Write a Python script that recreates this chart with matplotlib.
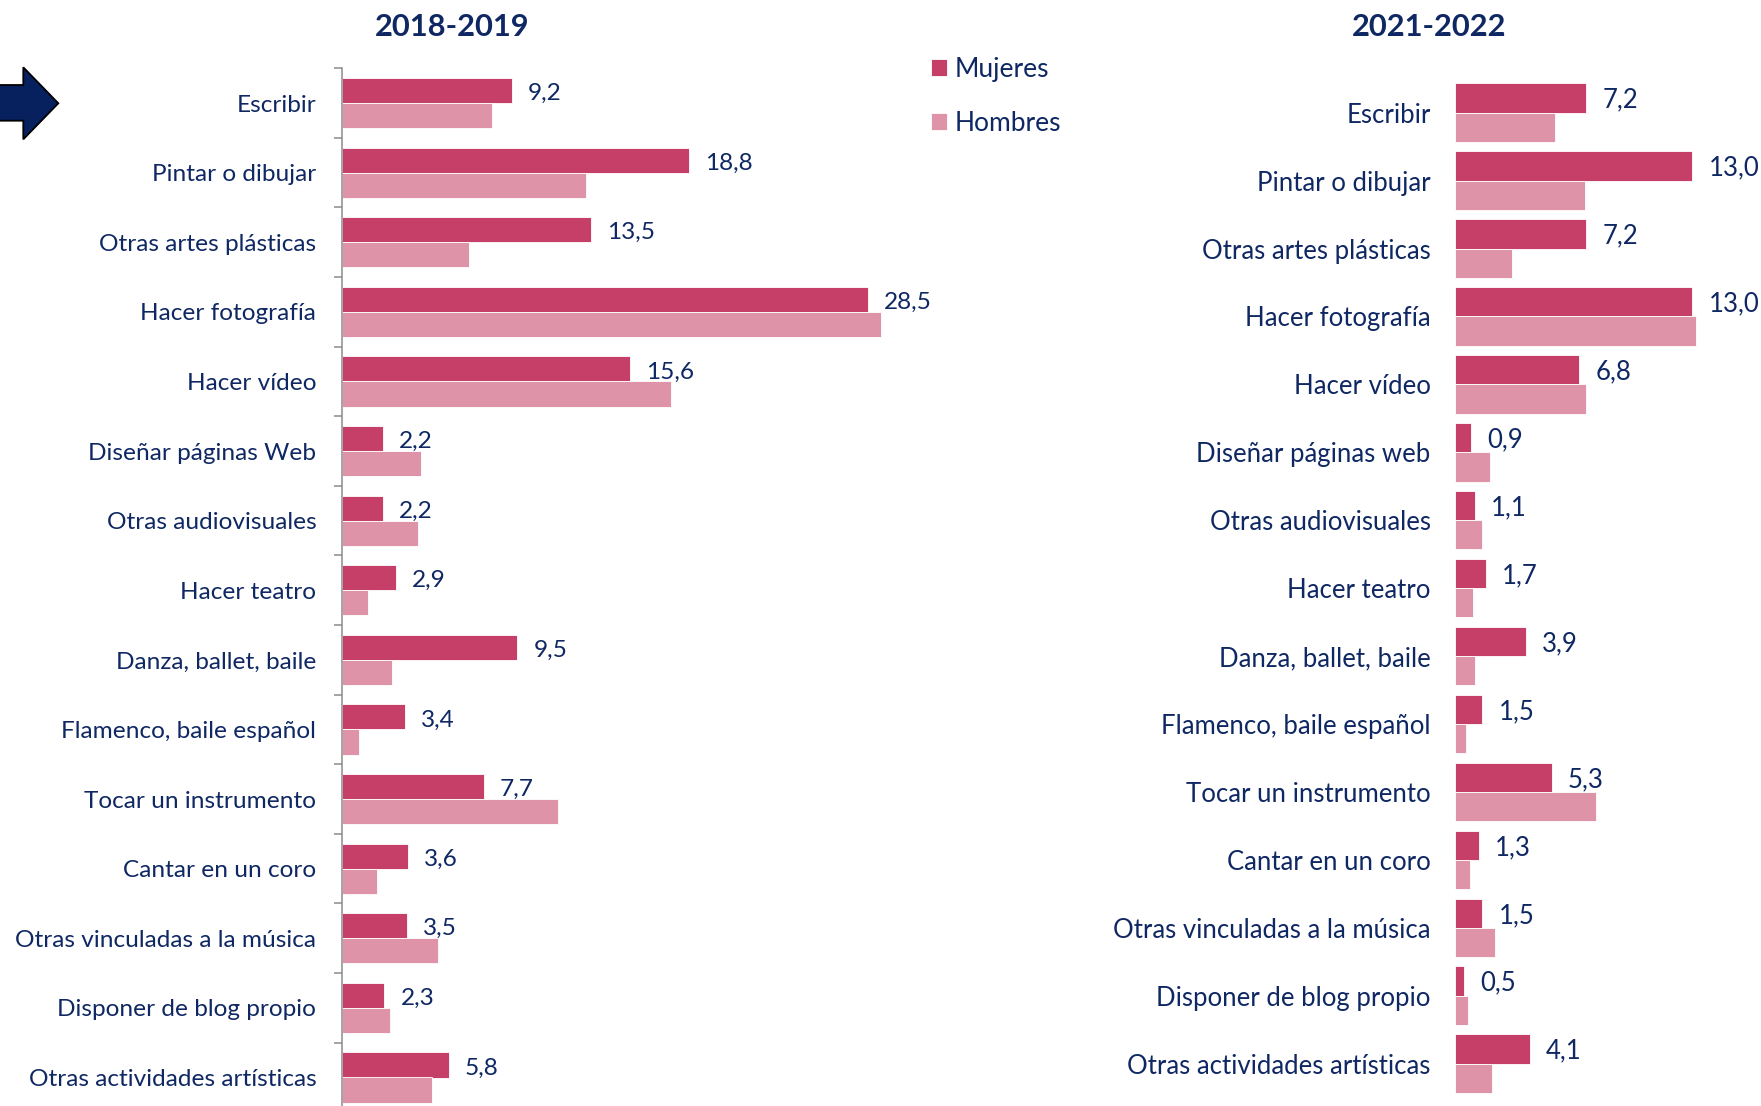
import matplotlib
matplotlib.use("Agg")
import matplotlib.pyplot as plt
from matplotlib.patches import Polygon
import numpy as np

# ---------------- data ----------------
categories_1819 = ["Escribir", "Pintar o dibujar", "Otras artes plásticas", "Hacer fotografía",
                   "Hacer vídeo", "Diseñar páginas Web", "Otras audiovisuales", "Hacer teatro",
                   "Danza, ballet, baile", "Flamenco, baile español", "Tocar un instrumento",
                   "Cantar en un coro", "Otras vinculadas a la música", "Disponer de blog propio",
                   "Otras actividades artísticas"]
categories_2122 = ["Escribir", "Pintar o dibujar", "Otras artes plásticas", "Hacer fotografía",
                   "Hacer vídeo", "Diseñar páginas web", "Otras audiovisuales", "Hacer teatro",
                   "Danza, ballet, baile", "Flamenco, baile español", "Tocar un instrumento",
                   "Cantar en un coro", "Otras vinculadas a la música", "Disponer de blog propio",
                   "Otras actividades artísticas"]
mujeres_1819 = [9.2, 18.8, 13.5, 28.5, 15.6, 2.2, 2.2, 2.9, 9.5, 3.4, 7.7, 3.6, 3.5, 2.3, 5.8]
hombres_1819 = [8.1, 13.2, 6.9, 29.2, 17.8, 4.3, 4.1, 1.4, 2.7, 0.9, 11.7, 1.9, 5.2, 2.6, 4.9]
mujeres_2122 = [7.2, 13.0, 7.2, 13.0, 6.8, 0.9, 1.1, 1.7, 3.9, 1.5, 5.3, 1.3, 1.5, 0.5, 4.1]
hombres_2122 = [5.5, 7.1, 3.1, 13.2, 7.2, 1.9, 1.5, 1.0, 1.1, 0.6, 7.7, 0.8, 2.2, 0.7, 2.0]
series_names = ["Mujeres", "Hombres"]
titles = ["2018-2019", "2021-2022"]

# ---------------- style ----------------
C_MUJ = "#C63F68"
C_HOM = "#DF93A9"
NAVY = "#0F2863"
FONT = ["Lato", "DejaVu Sans"]
plt.rcParams["font.family"] = FONT

W, H = 1761, 1106
fig = plt.figure(figsize=(W / 100, H / 100), dpi=100)


def px_axes(x0, ytop, w, h):
    return fig.add_axes([x0 / W, (H - ytop - h) / H, w / W, h / H])


def fmt(v):
    return f"{v:.1f}".replace(".", ",")


def draw(ax, cats, muj, hom, bar_h, xmax, fs, pad, show_spine, dy):
    n = len(cats)
    y = np.arange(n)
    bm = ax.barh(y - bar_h / 2, muj, height=bar_h, color=C_MUJ, edgecolor="white",
                 linewidth=0.6, label=series_names[0])
    bh = ax.barh(y + bar_h / 2, hom, height=bar_h, color=C_HOM, edgecolor="white",
                 linewidth=0.6, label=series_names[1])
    ax.set_xlim(0, xmax)
    ax.set_ylim(n - 0.5, -0.5)
    ax.set_xticks([])
    for s in ["top", "right", "bottom"]:
        ax.spines[s].set_visible(False)
    if show_spine:
        ax.spines["left"].set_color("#8C8C8C")
        ax.spines["left"].set_linewidth(1.1)
        ax.set_yticks(np.arange(n + 1) - 0.5)
        ax.set_yticklabels([])
        ax.tick_params(axis="y", which="major", length=6, width=1.1, color="#8C8C8C",
                       direction="out")
    else:
        ax.spines["left"].set_visible(False)
        ax.set_yticks([])
    ax.set_yticks(y, minor=True)
    ax.set_yticklabels(cats, minor=True, fontsize=fs, color=NAVY)
    ax.tick_params(axis="y", which="minor", length=0, pad=pad)
    for yi, v in zip(y, muj):
        ax.annotate(fmt(v), xy=(v, yi - bar_h / 2), xytext=(11.5, dy),
                    textcoords="offset points", va="center", ha="left",
                    fontsize=fs, color=NAVY, annotation_clip=False)
    ax.patch.set_alpha(0)
    return bm, bh


# left panel
axL = px_axes(342, 68.3, 738.4, 1044)
bm, bh = draw(axL, categories_1819, mujeres_1819, hombres_1819, 0.36, 40, 17.6, 18.5,
              True, -2.2)

# right panel
axR = px_axes(1455, 78.7, 292.2, 1018.9)
draw(axR, categories_2122, mujeres_2122, hombres_2122, 0.431, 16, 18.5, 17.6, False, -1.6)

# titles
fig.text(452.5 / W, 1 - 27 / H, titles[0], ha="center", va="center", fontsize=22.2,
         fontweight="bold", color=NAVY)
fig.text(1429 / W, 1 - 27 / H, titles[1], ha="center", va="center", fontsize=22.2,
         fontweight="bold", color=NAVY)

# legend
fig.legend(handles=[bm, bh], labels=series_names, loc="upper left",
           bbox_to_anchor=(931 / W, 1 - 57 / H), frameon=False, fontsize=19,
           handlelength=0.6, handleheight=0.6, handletextpad=0.3, labelspacing=1.1,
           borderpad=0, borderaxespad=0, labelcolor=NAVY)

# decorative arrow
arrow_pts = [(-3, 85), (23.3, 85), (23.3, 67.3), (58.3, 103.3), (23.3, 139.3),
             (23.3, 120.7), (-3, 120.7)]
fig.patches.append(Polygon([(x / W, 1 - yy / H) for x, yy in arrow_pts], closed=True,
                           transform=fig.transFigure, facecolor="#07205E",
                           edgecolor="black", linewidth=1.3, figure=fig))

fig.savefig("out.png", dpi=100)
